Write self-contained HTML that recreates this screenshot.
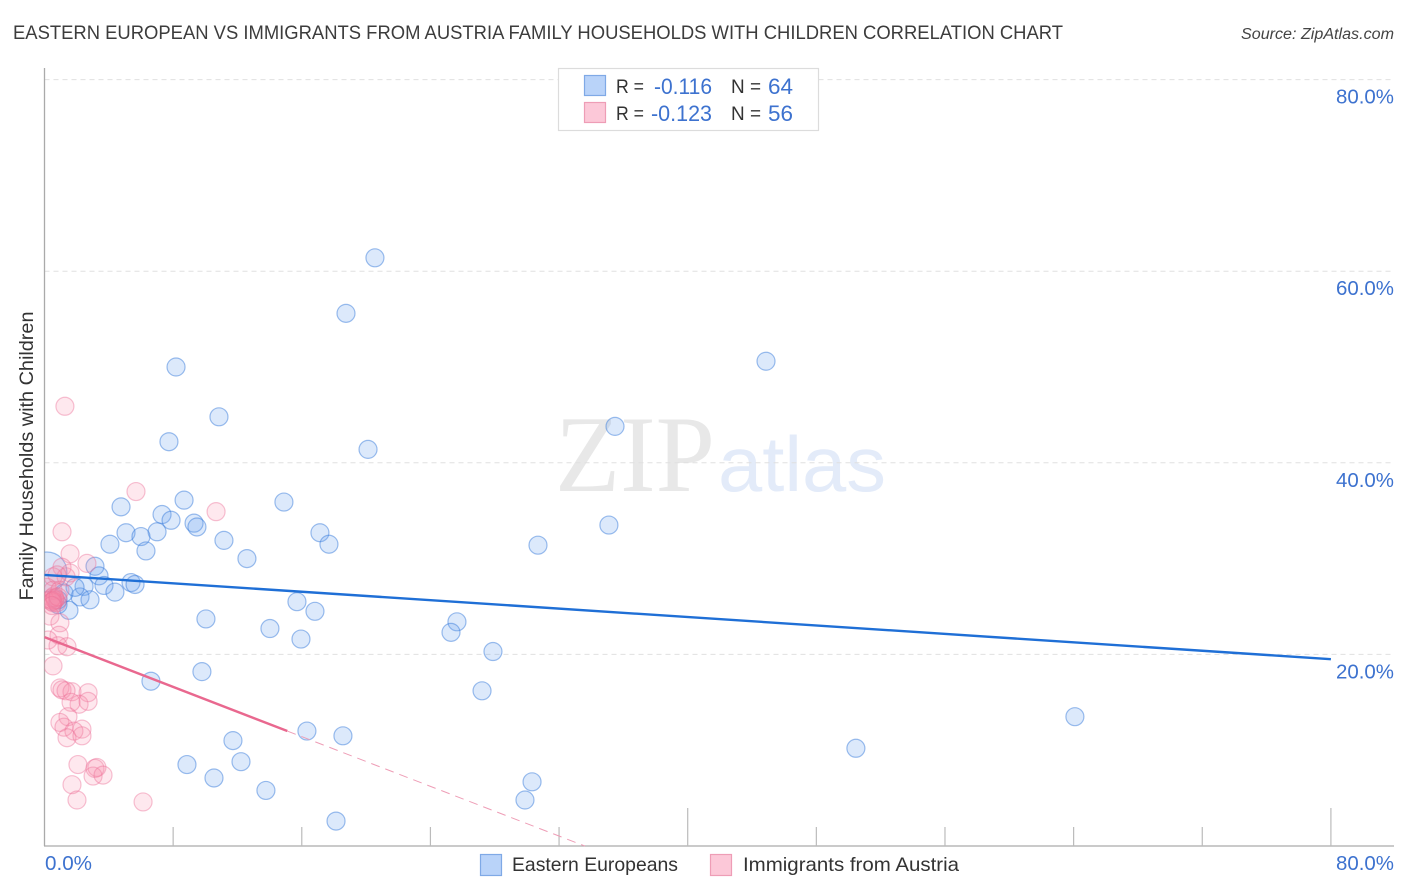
<!DOCTYPE html>
<html lang="en">
<head>
<meta charset="utf-8">
<title>Eastern European vs Immigrants from Austria Family Households with Children Correlation Chart</title>
<style>
html,body{margin:0;padding:0;background:#fff;}
body{width:1406px;height:892px;overflow:hidden;}
svg{display:block;font-family:"Liberation Sans",sans-serif;}
</style>
</head>
<body>
<svg id="chart" xmlns="http://www.w3.org/2000/svg" width="1406" height="892" viewBox="0 0 1406 892">
  <defs>
    <clipPath id="plot-clip"><rect x="44.5" y="60" width="1350" height="786"/></clipPath>
  </defs>
  <text x="13" y="39" font-size="19" fill="#3c3c3c" textLength="1050" lengthAdjust="spacingAndGlyphs">EASTERN EUROPEAN VS IMMIGRANTS FROM AUSTRIA FAMILY HOUSEHOLDS WITH CHILDREN CORRELATION CHART</text>
  <text x="1241" y="39" font-size="15.5" font-style="italic" fill="#444" textLength="153" lengthAdjust="spacingAndGlyphs">Source: ZipAtlas.com</text>

  <g>
    <text x="555" y="491" font-family="'Liberation Serif',serif" font-size="109" fill="#e8e8e8" textLength="160" lengthAdjust="spacingAndGlyphs">ZIP</text>
    <text x="718" y="491" font-size="78" fill="#e3ebf9" textLength="168" lengthAdjust="spacingAndGlyphs">atlas</text>
  </g>

  <g id="grid"></g>
  <g id="axes"></g>
  <g id="points" clip-path="url(#plot-clip)"></g>
  <g id="trends"></g>

  <text transform="translate(33,456) rotate(-90)" font-size="19" fill="#333" text-anchor="middle" textLength="289" lengthAdjust="spacingAndGlyphs">Family Households with Children</text>

  <g>
    <rect x="558.5" y="68.5" width="260" height="62" fill="#fff" stroke="#dcdcdc" stroke-width="1.2"/>
    <rect x="584.5" y="75.5" width="21" height="20" fill="#b9d3f9" stroke="#7fa9e6" stroke-width="1.2"/>
    <rect x="584.5" y="102.5" width="21" height="20" fill="#fcc8d8" stroke="#ee9db6" stroke-width="1.2"/>
    <text x="616" y="93" font-size="19.5" fill="#333" textLength="28" lengthAdjust="spacingAndGlyphs">R =</text>
    <text x="654" y="94" font-size="22" fill="#3d72cf" textLength="58" lengthAdjust="spacingAndGlyphs">-0.116</text>
    <text x="731" y="93" font-size="19.5" fill="#333" textLength="30" lengthAdjust="spacingAndGlyphs">N =</text>
    <text x="768" y="94" font-size="22" fill="#3d72cf" textLength="25" lengthAdjust="spacingAndGlyphs">64</text>
    <text x="616" y="120" font-size="19.5" fill="#333" textLength="28" lengthAdjust="spacingAndGlyphs">R =</text>
    <text x="651" y="121" font-size="22" fill="#3d72cf" textLength="61" lengthAdjust="spacingAndGlyphs">-0.123</text>
    <text x="731" y="120" font-size="19.5" fill="#333" textLength="30" lengthAdjust="spacingAndGlyphs">N =</text>
    <text x="768" y="121" font-size="22" fill="#3d72cf" textLength="25" lengthAdjust="spacingAndGlyphs">56</text>
  </g>

  <g>
    <g>
      <rect x="480.5" y="854.5" width="21" height="21" fill="#b9d3f9" stroke="#7fa9e6" stroke-width="1.2"/>
      <text x="512" y="871" font-size="19.5" fill="#333" textLength="166" lengthAdjust="spacingAndGlyphs">Eastern Europeans</text>
    </g>
    <g>
      <rect x="710.5" y="854.5" width="21" height="21" fill="#fcc8d8" stroke="#ee9db6" stroke-width="1.2"/>
      <text x="743" y="871" font-size="19.5" fill="#333" textLength="216" lengthAdjust="spacingAndGlyphs">Immigrants from Austria</text>
    </g>
  </g>
</svg>
<script>
const yTickValues = [20, 40, 60, 80];
const yTickLabels = ["20.0%", "40.0%", "60.0%", "80.0%"];
const xTickValues = [0, 8, 16, 24, 32, 40, 48, 56, 64, 72, 80];
const xMajorTicks = [40, 80];
const xEndLabels = ["0.0%", "80.0%"];

const blueX = [20.55,18.75,44.87,8.18,10.85,35.48,7.74,20.12,8.68,14.89,4.76,7.31,7.87,9.3,9.48,5.07,7.0,6.0,11.16,17.13,17.69,4.07,6.31,12.59,30.69,35.1,3.14,3.39,5.38,5.63,2.46,3.7,4.38,2.21,2.83,1.21,1.9,1.52,0.84,15.7,16.82,10.04,14.02,15.95,25.65,25.28,27.89,9.79,6.62,27.21,64.08,16.32,18.56,50.46,11.72,8.86,12.22,10.54,30.32,29.88,13.77,18.13,0.84];
const blueY = [61.4,55.6,50.6,50.0,44.8,43.8,42.2,41.4,36.1,35.9,35.4,34.6,34.0,33.7,33.3,32.7,32.8,32.3,31.9,32.7,31.5,31.5,30.8,30.0,31.4,33.5,29.2,28.2,27.5,27.3,27.1,27.2,26.5,26.0,25.7,26.4,27.0,24.6,25.2,25.5,24.5,23.7,22.7,21.6,23.4,22.3,20.3,18.2,17.2,16.2,13.5,12.0,11.5,10.2,11.0,8.5,8.8,7.1,6.7,4.8,5.8,2.6,25.7];
const blueLargeX = [0.15];
const blueLargeY = [28.6];

const pinkX = [1.27,5.69,10.67,1.09,1.59,2.64,1.09,1.34,1.59,0.53,0.78,0.16,0.59,0.65,0.65,0.78,0.53,0.4,0.53,0.47,0.96,0.34,0.96,0.9,0.22,1.4,0.84,0.53,0.96,1.09,1.71,2.71,1.34,2.15,1.65,2.71,1.46,0.96,1.21,2.33,1.83,1.4,2.33,2.08,3.14,3.26,3.02,3.64,1.71,2.02,6.13,0.65,0.53,0.47,0.84,0.47];
const pinkY = [45.9,37.0,34.9,32.8,30.5,29.5,29.1,28.1,28.5,28.1,28.3,27.0,26.1,25.7,25.7,25.4,25.4,25.7,26.7,25.9,26.7,24.0,23.3,22.0,21.5,20.8,20.9,18.8,16.5,16.3,16.1,16.0,16.2,14.8,15.0,15.1,13.5,12.9,12.4,12.2,12.0,11.3,11.5,8.5,8.1,8.2,7.3,7.4,6.4,4.8,4.6,25.9,25.6,25.5,26.0,25.1];

const blueTrendX = [0, 80];
const blueTrendY = [28.3, 19.5];
const pinkSolidX = [0, 15.1];
const pinkSolidY = [21.8, 12.0];
const pinkDashX = [15.1, 33.6];
const pinkDashY = [12.0, 0];

const NS = "http://www.w3.org/2000/svg";
const scaleX = function (v) { return 44.5 + v * 16.08; };
const scaleY = function (v) { return 846 - v * 9.58; };

function make(tag, parent, attrs) {
  const el = document.createElementNS(NS, tag);
  Object.keys(attrs).forEach(function (k) { el.setAttribute(k, attrs[k]); });
  parent.appendChild(el);
  return el;
}

const grid = document.getElementById("grid");
const axes = document.getElementById("axes");
const points = document.getElementById("points");
const trends = document.getElementById("trends");

yTickValues.forEach(function (v, i) {
  const line = make("line", grid, { x1: 44.5, x2: 1394, y1: scaleY(v), y2: scaleY(v), stroke: "#e0e0e0", "stroke-width": 1, "stroke-dasharray": "5 4" });
  
  
  const label = make("text", axes, { x: 1336, y: scaleY(v) + 24, "font-size": 20.5, fill: "#3d72cf", textLength: 58, lengthAdjust: "spacingAndGlyphs" });
  
  
  label.textContent = yTickLabels[i];
});

const yAxisLine = make("line", axes, { x1: 44.5, x2: 44.5, y1: 68, y2: 846, stroke: "#aaaaaa", "stroke-width": 1.3 });


const xAxisLine = make("line", axes, { x1: 44, x2: 1394, y1: 846, y2: 846, stroke: "#aaaaaa", "stroke-width": 1.3 });



xTickValues.forEach(function (v) {
  if (v === 0) { return; }
  const top = xMajorTicks.indexOf(v) >= 0 ? 808 : 827;
  const tick = make("line", axes, { x1: scaleX(v), x2: scaleX(v), y1: top, y2: 846, stroke: "#bbbbbb", "stroke-width": 1.2 });
  
  
});

const xLabelStart = make("text", axes, { x: 45, y: 870, "font-size": 20.5, fill: "#3d72cf", textLength: 47, lengthAdjust: "spacingAndGlyphs" });


xLabelStart.textContent = xEndLabels[0];
const xLabelEnd = make("text", axes, { x: 1336, y: 870, "font-size": 20.5, fill: "#3d72cf", textLength: 58, lengthAdjust: "spacingAndGlyphs" });


xLabelEnd.textContent = xEndLabels[1];

const blueStyle = { fill: "rgba(110,165,240,0.24)", stroke: "rgba(60,125,220,0.5)", "stroke-width": 1.2 };
const pinkStyle = { fill: "rgba(248,140,172,0.2)", stroke: "rgba(236,110,150,0.42)", "stroke-width": 1.2 };

function circle(x, y, r, style) {
  return make("circle", points, Object.assign({ cx: scaleX(x), cy: scaleY(y), r: r }, style));
}

blueLargeX.forEach(function (x, i) {
  const dot = circle(x, blueLargeY[i], 20, blueStyle);
  
  
});
blueX.forEach(function (x, i) {
  const dot = circle(x, blueY[i], 9, blueStyle);
  
  
});
pinkX.forEach(function (x, i) {
  const dot = circle(x, pinkY[i], 9, pinkStyle);
  
  
});

const blueTrend = make("line", trends, { x1: scaleX(blueTrendX[0]), y1: scaleY(blueTrendY[0]), x2: scaleX(blueTrendX[1]), y2: scaleY(blueTrendY[1]), stroke: "#1f6fd6", "stroke-width": 2.4 });


const pinkSolid = make("line", trends, { x1: scaleX(pinkSolidX[0]), y1: scaleY(pinkSolidY[0]), x2: scaleX(pinkSolidX[1]), y2: scaleY(pinkSolidY[1]), stroke: "#e9688f", "stroke-width": 2.4 });


const pinkDash = make("line", trends, { x1: scaleX(pinkDashX[0]), y1: scaleY(pinkDashY[0]), x2: scaleX(pinkDashX[1]), y2: scaleY(pinkDashY[1]), stroke: "#ee9db6", "stroke-width": 1, "stroke-dasharray": "9 6" });


</script>
</body>
</html>
